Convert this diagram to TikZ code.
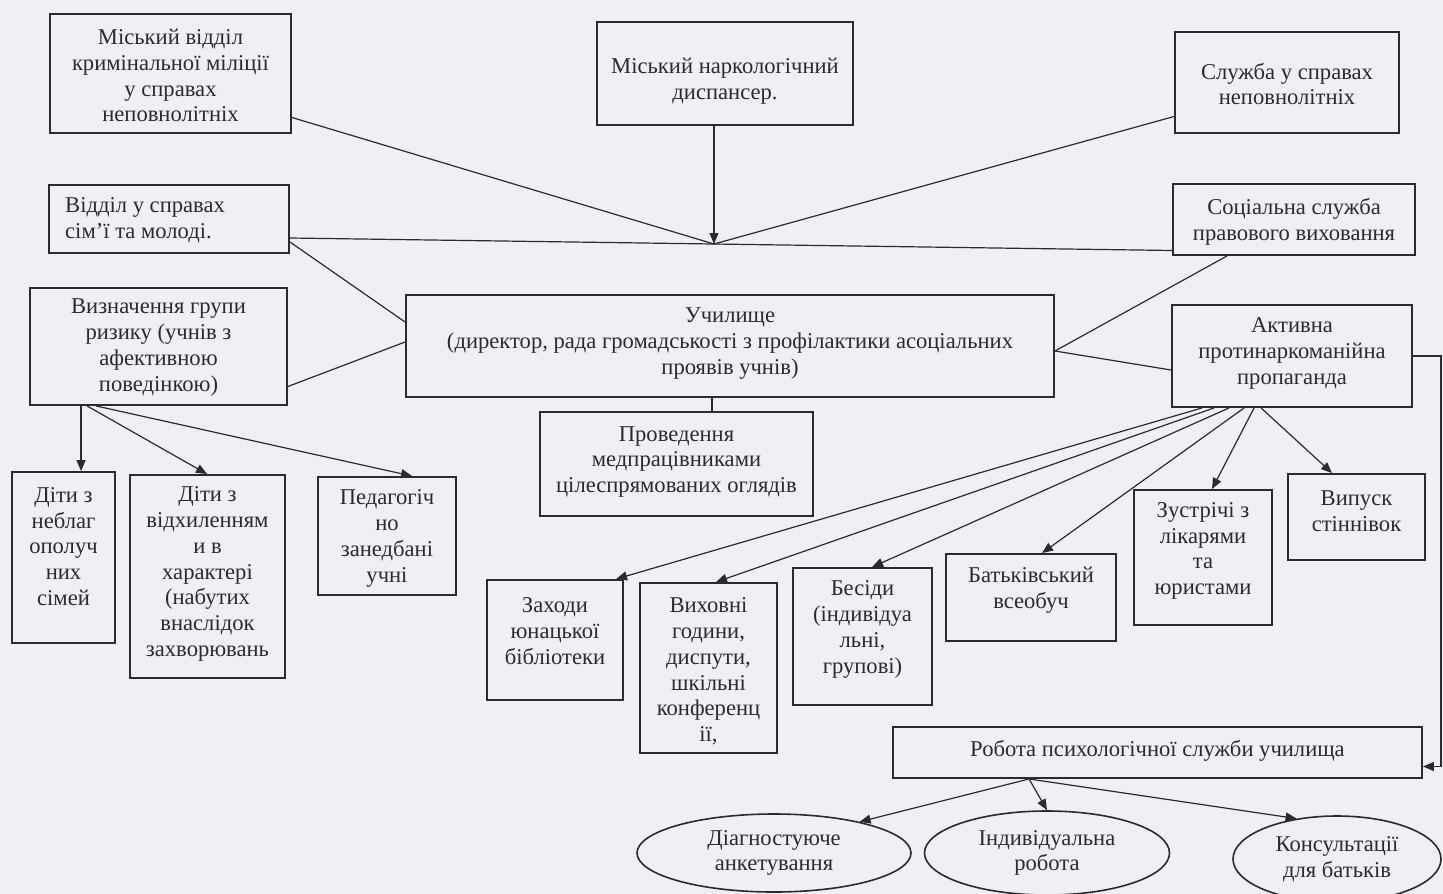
\documentclass[tikz,border=0pt]{standalone}
\usepackage{fontspec}
\setmainfont{Liberation Serif}
\usetikzlibrary{arrows.meta,fit,calc,shapes.geometric}
\definecolor{bg}{RGB}{241,239,244}
\definecolor{ink}{RGB}{44,42,48}
\tikzset{
  boxst/.style={draw=ink, line width=1.9pt, inner sep=0pt},
  txt/.style={text=ink, align=center, font=\fontsize{22.6}{25.8}\selectfont, inner sep=0pt},
  conn/.style={draw=ink, line width=1.2pt},
  arr/.style={conn, -{Triangle[length=11pt,width=9pt]}},
  ell/.style={draw=ink, line width=1.6pt, ellipse, inner sep=0pt, text=ink, align=center, font=\fontsize{22.6}{25.8}\selectfont}
}
\newcommand\bx[7]{%
  \coordinate (#1-a) at (#2,#3);
  \coordinate (#1-b) at (#4,#5);
  \node[boxst, fit=(#1-a)(#1-b)] (#1) {};
  \node[txt] (#1-t) at ({(#2+#4)/2},#6) {#7};}
\begin{document}
\begin{tikzpicture}[x=1pt,y=-1pt]
\fill[bg] (0,0) rectangle (1443,894);
\useasboundingbox (0,0) rectangle (1443,894);

% top row
\bx{A}{50}{14}{291}{133}{75.5}{Міський відділ\\кримінальної міліції\\у справах\\неповнолітніх}
\bx{B}{597}{22}{853}{125}{81.5}{Міський наркологічний\\диспансер.}
\bx{C}{1175}{32}{1399}{133}{84}{Служба у справах\\неповнолітніх}
% second row
\coordinate (D-a) at (49,185);
\coordinate (D-b) at (289,253);
\node[boxst, fit=(D-a)(D-b)] (D) {};
\node[txt, align=left, anchor=west] (D-t) at (65,220) {Відділ у справах\\сім’ї та молоді.};
\bx{E}{1173}{184}{1415}{255}{221.5}{Соціальна служба\\правового виховання}
% middle row
\bx{F}{30}{288}{287}{405}{347.5}{Визначення групи\\ризику (учнів з\\афективною\\поведінкою)}
\bx{G}{406}{295}{1054}{397}{343.5}{Училище\\(директор, рада громадськості з профілактики асоціальних\\проявів учнів)}
\bx{H}{1172}{305}{1412}{407}{353.5}{Активна\\протинаркоманійна\\пропаганда}
\bx{M}{540}{412}{813}{516}{462}{Проведення\\медпрацівниками\\цілеспрямованих оглядів}
% children of F
\bx{F1}{12}{472}{115}{643}{546.5}{Діти з\\неблаг\\ополуч\\них\\сімей}
\bx{F2}{130}{475}{285}{678}{574}{Діти з\\відхиленням\\и в\\характері\\(набутих\\внаслідок\\захворювань}
\bx{F3}{318}{477}{456}{595}{538.5}{Педагогіч\\но\\занедбані\\учні}
% children of H
\bx{H1}{487}{580}{623}{700}{631}{Заходи\\юнацької\\бібліотеки}
\bx{H2}{640}{583}{777}{753}{671.5}{Виховні\\години,\\диспути,\\шкільні\\конференц\\ії,}
\bx{H3}{793}{568}{932}{705}{629.5}{Бесіди\\(індивідуа\\льні,\\групові)}
\bx{H4}{946}{554}{1116}{641}{590.5}{Батьківський\\всеобуч}
\bx{H5}{1134}{490}{1272}{625}{551}{Зустрічі з\\лікарями\\та\\юристами}
\bx{H6}{1288}{474}{1425}{560}{511.5}{Випуск\\стіннівок}
% psychological service
\bx{P}{893}{727}{1422}{778}{751}{Робота психологічної служби училища}
\node[ell, minimum width=274pt, minimum height=78pt] (E1) at (774,853) {Діагностуюче\\анкетування};
\node[ell, minimum width=245pt, minimum height=84pt] (E2) at (1047,853) {Індивідуальна\\робота};
\node[ell, minimum width=208pt, minimum height=86pt] (E3) at (1337,859) {Консультації\\для батьків};

% junction
\coordinate (J) at (714,244);
\draw[conn] ([yshift=-44pt]A.east) -- (J);
\draw[conn] ([yshift=-34pt]C.west) -- (J);
\draw[arr] ([xshift=-11pt]B.south) -- (J);
\draw[conn] ([yshift=-19pt]D.east) -- ([yshift=-31pt]E.west);
% links to the school
\draw[conn] ([yshift=-23pt]D.east) -- ([yshift=24pt]G.west);
\draw[conn] ([yshift=-40pt]F.east) -- ([yshift=4pt]G.west);
\draw[conn] ([xshift=-67pt]E.south) -- ([yshift=-5pt]G.east);
\draw[conn] ([yshift=-5pt]G.east) -- ([yshift=-14pt]H.west);
\draw[conn] ([xshift=-18pt]G.south) -- ([xshift=35.5pt]M.north);
% F arrows
\draw[arr] ([xshift=52pt]F.south west) -- ([xshift=70pt]F1.north west);
\draw[arr] ([xshift=58pt]F.south west) -- ([xshift=78pt]F2.north west);
\draw[arr] ([xshift=67pt]F.south west) -- ([xshift=95pt]F3.north west);
% H arrows
\draw[arr] ([xshift=31pt]H.south west) -- ([xshift=130pt]H1.north west);
\draw[arr] ([xshift=43pt]H.south west) -- ([xshift=77pt]H2.north west);
\draw[arr] ([xshift=58pt]H.south west) -- ([xshift=80pt]H3.north west);
\draw[arr] ([xshift=73pt]H.south west) -- ([xshift=97pt]H4.north west);
\draw[arr] ([xshift=83pt]H.south west) -- ([xshift=79pt]H5.north west);
\draw[arr] ([xshift=90pt]H.south west) -- ([xshift=45pt]H6.north west);
\draw[arr] (H.east) -- ++(28,0) |- ([yshift=-14pt]P.east);
% P arrows
\draw[arr] ([xshift=137pt]P.south west) -- (E1.20);
\draw[arr] ([xshift=137pt]P.south west) -- (E2.north);
\draw[arr] ([xshift=137pt]P.south west) -- (E3.135);
\end{tikzpicture}
\end{document}
